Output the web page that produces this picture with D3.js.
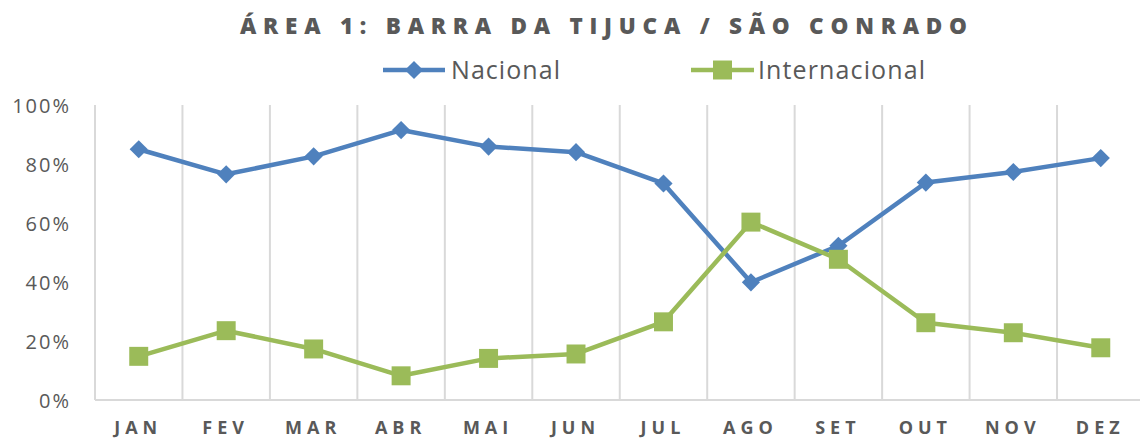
<!DOCTYPE html>
<html><head><meta charset="utf-8">
<script src="https://cdn.jsdelivr.net/npm/d3@7"></script>
<style>
html,body{margin:0;padding:0;background:#fff;}
svg{display:block;}
text{font-family:"Open Sans",sans-serif;fill:#595959;}
</style></head>
<body><svg id="c" width="1140" height="440"></svg>
<script>
const title = "ÁREA 1: BARRA DA TIJUCA / SÃO CONRADO";
const months = ["JAN","FEV","MAR","ABR","MAI","JUN","JUL","AGO","SET","OUT","NOV","DEZ"];
const seriesNames = ["Nacional","Internacional"];
const nacional = [0.850, 0.765, 0.826, 0.915, 0.859, 0.840, 0.734, 0.399, 0.523, 0.737, 0.773, 0.820];
const internacional = [0.148, 0.235, 0.173, 0.082, 0.141, 0.156, 0.265, 0.603, 0.477, 0.262, 0.228, 0.177];
const yTicks = [0, 0.2, 0.4, 0.6, 0.8, 1.0];

const colors = ["#4F81BD", "#9BBB59"];
const svg = d3.select("#c");
const x = d3.scaleBand().domain(months).range([95, 1144.5]).padding(0);
const y = d3.scaleLinear().domain([0, 1]).range([400, 105]);

// vertical gridlines at band boundaries
const bounds = months.map(m => x(m)).concat([x.range()[1]]);
svg.append("g").selectAll("line").data(bounds).join("line")
  .attr("x1", d => d).attr("x2", d => d)
  .attr("y1", y(1)).attr("y2", y(0))
  .attr("stroke", "#d9d9d9").attr("stroke-width", 2);
// x axis line
svg.append("line").attr("x1", x.range()[0]).attr("x2", x.range()[1])
  .attr("y1", y(0)).attr("y2", y(0)).attr("stroke", "#d9d9d9").attr("stroke-width", 2);

// y labels
svg.append("g").selectAll("text").data(yTicks).join("text")
  .attr("x", 71).attr("y", d => y(d) + 7.5)
  .attr("text-anchor", "end")
  .style("font-size", "20px").style("letter-spacing", "2px")
  .text(d => d3.format(".0%")(d));

// x labels
svg.append("g").selectAll("text").data(months).join("text")
  .attr("x", d => x(d) + x.bandwidth() / 2 - 0.5)
  .attr("y", 433.5)
  .attr("text-anchor", "middle")
  .style("font-size", "18px").style("font-weight", "700").style("letter-spacing", "5px")
  .text(d => d);

const line = d3.line().x((d, i) => x(months[i]) + x.bandwidth() / 2).y(d => y(d));
const diamond = d3.symbol(d3.symbolSquare, 165);
const square = d3.symbol(d3.symbolSquare, 360);

function drawSeries(vals, color, isDiamond) {
  const g = svg.append("g");
  g.append("path").datum(vals).attr("d", line)
    .attr("fill", "none").attr("stroke", color).attr("stroke-width", 4.5)
    .attr("stroke-linejoin", "round");
  g.selectAll("path.m").data(vals).join("path").attr("class", "m")
    .attr("d", isDiamond ? diamond : square)
    .attr("transform", (d, i) => `translate(${x(months[i]) + x.bandwidth() / 2},${y(d)})` + (isDiamond ? " rotate(45)" : ""))
    .attr("fill", color);
}
drawSeries(nacional, colors[0], true);
drawSeries(internacional, colors[1], false);

// title
svg.append("text").attr("x", 240).attr("y", 34)
  .attr("textLength", 727).attr("lengthAdjust", "spacing")
  .style("font-size", "22.5px").style("font-weight", "800")
  .text(title);

// legend
const legend = [
  {name: seriesNames[0], x1: 383, x2: 445, tx: 451, tw: 109, color: colors[0], diamond: true},
  {name: seriesNames[1], x1: 691, x2: 754, tx: 758, tw: 167, color: colors[1], diamond: false}
];
const lg = svg.append("g");
legend.forEach(l => {
  lg.append("line").attr("x1", l.x1).attr("x2", l.x2).attr("y1", 70).attr("y2", 70)
    .attr("stroke", l.color).attr("stroke-width", 4.5);
  lg.append("path").attr("d", l.diamond ? diamond : square)
    .attr("transform", `translate(${(l.x1 + l.x2) / 2},70)` + (l.diamond ? " rotate(45)" : ""))
    .attr("fill", l.color);
  lg.append("text").attr("x", l.tx).attr("y", 79)
    .attr("textLength", l.tw).attr("lengthAdjust", "spacing")
    .style("font-size", "25px").text(l.name);
});
</script></body></html>
